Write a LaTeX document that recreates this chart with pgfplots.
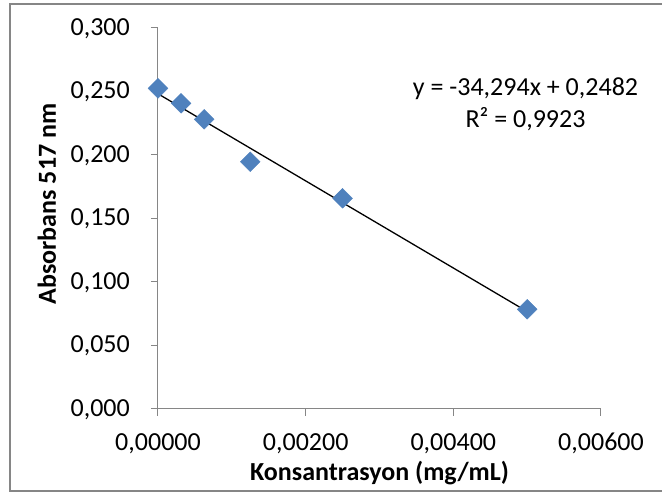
\documentclass[border=0pt]{standalone}
\usepackage{fontspec}
\setmainfont{Carlito}
\usepackage{pgfplots}
\pgfplotsset{compat=1.18}
\definecolor{xlgray}{RGB}{134,134,134}
\definecolor{xlblue}{RGB}{79,129,189}
\newcommand\fs{\fontsize{26}{31}\selectfont}

\begin{document}
\begin{tikzpicture}[x=1pt,y=1pt]
\useasboundingbox (-158,-85) rectangle (504,409);
\draw[xlgray, line width=1.2pt] (-148,-82) rectangle (520,405);
\begin{axis}[
  at={(0,0)}, anchor=south west,
  scale only axis, width=443pt, height=381pt,
  xmin=0, xmax=0.006, ymin=0, ymax=0.3,
  axis x line=bottom, axis y line=left,
  axis line style={-, xlgray, line width=1pt},
  tick style={xlgray, line width=1pt},
  tick align=outside, major tick length=7pt,
  xtick={0,0.002,0.004,0.006},
  xticklabels={{0,00000},{0,00200},{0,00400},{0,00600}},
  ytick={0,0.05,0.1,0.15,0.2,0.25,0.3},
  yticklabels={{0,000},{0,050},{0,100},{0,150},{0,200},{0,250},{0,300}},
  scaled ticks=false,
  tick label style={font=\fs, inner sep=0pt},
  yticklabel style={anchor=base east, xshift=-21pt, yshift=-7.5pt},
  xticklabel style={anchor=base, yshift=-35pt},
  clip=false,
]
\addplot[only marks, mark=square*, mark size=7pt,
  mark options={rotate=45, fill=xlblue, draw=xlblue}]
  coordinates {
    (0,0.2525) (0.0003125,0.2407) (0.000625,0.2281)
    (0.00125,0.1947) (0.0025,0.1659) (0.005,0.0785)};
\addplot[black, line width=1.3pt] coordinates {(0,0.2482) (0.005,0.07673)};
\end{axis}
\node[font=\fs\bfseries, anchor=base] at (221.5,-72) {Konsantrasyon (mg/mL)};
\node[font=\fs\bfseries, anchor=base, rotate=90] at (-102,205) {Absorbans 517 nm};
\node[font=\fs, anchor=base] at (367.5,313) {y = -34,294x + 0,2482};
\node[font=\fs, anchor=base] at (367.5,281) {R² = 0,9923};
\end{tikzpicture}
\end{document}
